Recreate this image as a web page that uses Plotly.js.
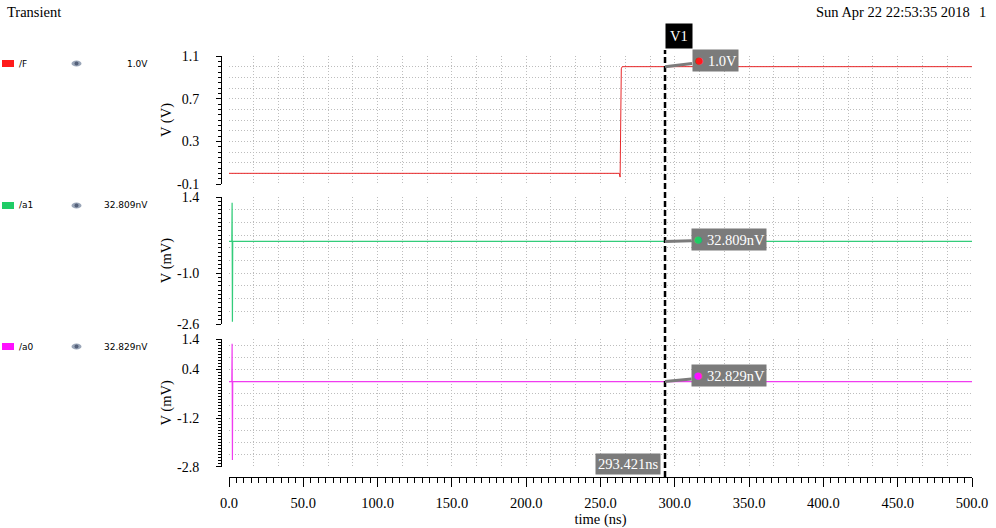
<!DOCTYPE html>
<html>
<head>
<meta charset="utf-8">
<script src="https://cdn.plot.ly/plotly-3.0.1.min.js"></script>
<style>html,body{margin:0;padding:0;background:#fff;}#chart{width:996px;height:528px;}</style>
</head>
<body>
<div id="chart"></div>
<script>
// ---- data (time in ns) ----
const signalNames = ['/F', '/a1', '/a0'];
const signalValues = ['1.0V', '32.809nV', '32.829nV'];
const tF = [0, 262.6, 263.2, 264.0, 264.6, 500];
const vF = [0.0, 0.0, -0.035, 0.98, 1.0, 1.0];           // V
const tA1 = [0, 1.9, 2.1, 2.3, 2.5, 2.8, 500];
const vA1 = [0.0, 0.0, 1.22, -2.53, 0.0, 0.0000328, 0.0000328];  // mV
const tA0 = [0, 1.9, 2.1, 2.3, 2.5, 2.8, 500];
const vA0 = [0.0, 0.0, 1.24, -2.58, 0.0, 0.0000328, 0.0000328];  // mV
const cursorTime = 293.421;
const cursorVals = [1.0, 0.0000328, 0.0000328];
const yTicks1 = [1.1, 0.7, 0.3, -0.1];
const yTicks2 = [1.4, -1.0, -2.6];
const yTicks3 = [1.4, 0.4, -1.2, -2.8];
const yRange1 = [-0.1, 1.1];
const yRange2 = [-2.6, 1.4];
const yRange3 = [-2.8, 1.4];
const xRange = [0, 500];

// ---- layout helpers ----
const W = 996, H = 528, ML = 221, MR = 24, MT = 50, MB = 51;
const PW = W - ML - MR, PH = H - MT - MB;
const px = X => (X - ML) / PW;
const py = Y => (H - MB - Y) / PH;

const colors = ['#e8282a', '#33cc7a', '#f03cf0'];
const legendColors = ['#ff1a1a', '#1fcc66', '#ff10ff'];
const serif = 'Liberation Serif, DejaVu Serif, serif';
const sans = 'DejaVu Sans, sans-serif';
const gridCol = '#bdbdbd';
const gridDash = '1px,2px';

const traces = [
  {x: tF, y: vF, xaxis: 'x', yaxis: 'y', mode: 'lines', line: {color: colors[0], width: 1}, hoverinfo: 'skip'},
  {x: tA1, y: vA1, xaxis: 'x', yaxis: 'y2', mode: 'lines', line: {color: colors[1], width: 1.2}, hoverinfo: 'skip'},
  {x: tA0, y: vA0, xaxis: 'x', yaxis: 'y3', mode: 'lines', line: {color: colors[2], width: 1.2}, hoverinfo: 'skip'},
  // empty traces to instantiate the tick-only axes
  {x: [], y: [], xaxis: 'x2', yaxis: 'y3', mode: 'lines', hoverinfo: 'skip'},
  {x: [], y: [], xaxis: 'x', yaxis: 'y4', mode: 'lines', hoverinfo: 'skip'},
  {x: [], y: [], xaxis: 'x', yaxis: 'y5', mode: 'lines', hoverinfo: 'skip'},
  {x: [], y: [], xaxis: 'x', yaxis: 'y6', mode: 'lines', hoverinfo: 'skip'}
];

function gridY(domain, range, tick0, dtick) {
  return {domain: domain, range: range, anchor: 'x', showgrid: true, gridcolor: gridCol, griddash: gridDash, gridwidth: 1,
    tickmode: 'linear', tick0: tick0, dtick: dtick, showticklabels: false, ticks: '', zeroline: false, showline: false, fixedrange: true};
}
function tickY(over, vals, mtick0, mdtick, title) {
  return {overlaying: over, matches: over, anchor: 'free', position: 0, side: 'left', showgrid: false, zeroline: false,
    showline: true, linecolor: '#000', linewidth: 1, ticks: 'outside', ticklen: 5, tickwidth: 1, tickcolor: '#000',
    tickmode: 'array', tickvals: vals, ticktext: vals.map(v => v.toFixed(1)), ticklabelstandoff: 14,
    tickfont: {family: serif, size: 14, color: '#000'},
    minor: {ticks: 'outside', ticklen: 3, tickwidth: 1, tickcolor: '#000', tickmode: 'linear', tick0: mtick0, dtick: mdtick, showgrid: false},
    title: {text: title, font: {family: serif, size: 14.5, color: '#000'}, standoff: 0}};
}

const d1 = [py(184), py(56)];
const d2 = [py(324), py(197)];
const d3 = [py(466.7), py(339)];

const annotations = [];
const shapes = [];

// header texts
annotations.push({xref: 'paper', yref: 'paper', x: px(5), y: py(12), xanchor: 'left', yanchor: 'middle', text: 'Transient', showarrow: false, font: {family: serif, size: 14.5, color: '#000'}});
annotations.push({xref: 'paper', yref: 'paper', x: px(972), y: py(12), xanchor: 'right', yanchor: 'middle', text: 'Sun Apr 22 22:53:35 2018', showarrow: false, font: {family: serif, size: 14.5, color: '#000'}});
annotations.push({xref: 'paper', yref: 'paper', x: px(988), y: py(12), xanchor: 'right', yanchor: 'middle', text: '1', showarrow: false, font: {family: serif, size: 14.5, color: '#000'}});

// left legend
const legY = [63.5, 205.5, 346.5];
legY.forEach((Y, i) => {
  shapes.push({type: 'rect', xref: 'paper', yref: 'paper', x0: px(2), x1: px(14), y0: py(Y + 3.5), y1: py(Y - 3.5), fillcolor: legendColors[i], line: {width: 0}});
  shapes.push({type: 'circle', xref: 'paper', yref: 'paper', x0: px(71.5), x1: px(81.5), y0: py(Y + 3), y1: py(Y - 3), fillcolor: '#9aa6b8', line: {width: 0}});
  shapes.push({type: 'circle', xref: 'paper', yref: 'paper', x0: px(74.5), x1: px(78.5), y0: py(Y + 2), y1: py(Y - 2), fillcolor: '#55617a', line: {width: 0}});
  annotations.push({xref: 'paper', yref: 'paper', x: px(17), y: py(Y), xanchor: 'left', yanchor: 'middle', text: signalNames[i], showarrow: false, font: {family: sans, size: 9, color: '#000'}});
  annotations.push({xref: 'paper', yref: 'paper', x: px(150), y: py(Y), xanchor: 'right', yanchor: 'middle', text: signalValues[i], showarrow: false, font: {family: sans, size: 9, color: '#000'}});
});

// cursor line
shapes.push({type: 'line', xref: 'x', yref: 'paper', x0: cursorTime, x1: cursorTime, y0: 0, y1: 1, line: {color: '#000', width: 2.5, dash: '6px,3px'}});
annotations.push({xref: 'x', yref: 'paper', x: cursorTime, y: 1, xanchor: 'left', yanchor: 'bottom', yshift: 1, text: 'V1', showarrow: false,
  bgcolor: '#000', borderpad: 4, font: {family: serif, size: 14.5, color: '#fff'}});
annotations.push({xref: 'x', yref: 'paper', x: cursorTime, y: 0, xanchor: 'right', yanchor: 'bottom', xshift: -4, yshift: 2, text: cursorTime.toFixed(3) + 'ns', showarrow: false,
  bgcolor: '#7b7b7b', borderpad: 2, font: {family: serif, size: 14.5, color: '#fff'}});

// cursor value labels
const yrefs = ['y', 'y2', 'y3'];
const axOff = [[50, -6], [64, -1.5], [64, -6]];
cursorVals.forEach((v, i) => {
  annotations.push({xref: 'x', yref: yrefs[i], x: cursorTime, y: v, ax: axOff[i][0], ay: axOff[i][1],
    text: '<span style="color:' + legendColors[i] + ';font-size:17px">●</span> ' + signalValues[i], showarrow: true, arrowhead: 0, arrowwidth: 3, arrowcolor: '#7b7b7b',
    bgcolor: '#7b7b7b', borderpad: 1, font: {family: serif, size: 14.5, color: '#fff'}});
});

const layout = {
  width: W, height: H, margin: {l: ML, r: MR, t: MT, b: MB}, paper_bgcolor: '#fff', plot_bgcolor: '#fff', showlegend: false,
  xaxis: {domain: [px(229), 1], range: xRange, anchor: 'y3', showgrid: true, gridcolor: gridCol, griddash: gridDash, gridwidth: 1,
    tickmode: 'linear', tick0: 0, dtick: 50 / 3, showticklabels: false, ticks: '', zeroline: false, showline: false, fixedrange: true},
  xaxis2: {overlaying: 'x', matches: 'x', anchor: 'free', position: 0, side: 'bottom', showgrid: false, zeroline: false,
    showline: true, linecolor: '#000', linewidth: 1, ticks: 'outside', ticklen: 9, tickwidth: 1, tickcolor: '#000',
    tickmode: 'linear', tick0: 0, dtick: 50, tickformat: '.1f', ticklabelstandoff: 4,
    tickfont: {family: serif, size: 14.5, color: '#000'},
    minor: {ticks: 'outside', ticklen: 5, tickwidth: 1, tickcolor: '#000', tickmode: 'linear', tick0: 0, dtick: 5, showgrid: false},
    title: {text: 'time (ns)', font: {family: serif, size: 14.5, color: '#000'}, standoff: 0}},
  yaxis: gridY(d1, yRange1, -0.1, 0.1),
  yaxis2: gridY(d2, yRange2, -2.6, 0.4),
  yaxis3: gridY(d3, yRange3, -2.8, 0.4),
  yaxis4: tickY('y', yTicks1, -0.1, 0.05, 'V (V)'),
  yaxis5: tickY('y2', yTicks2, -2.6, 0.2 / 1.5, 'V (mV)'),
  yaxis6: tickY('y3', yTicks3, -2.8, 0.1, 'V (mV)'),
  annotations: annotations,
  shapes: shapes
};

Plotly.newPlot('chart', traces, layout, {displayModeBar: false, staticPlot: true});
</script>
</body>
</html>
